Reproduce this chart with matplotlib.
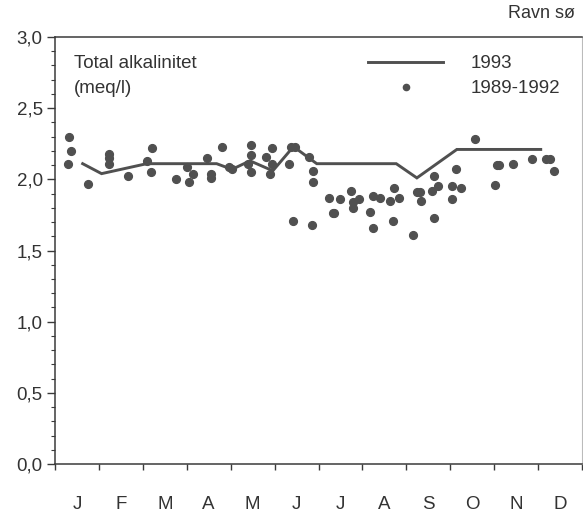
import matplotlib
matplotlib.use("Agg")
import matplotlib.pyplot as plt
from matplotlib.ticker import FuncFormatter, MultipleLocator, FixedLocator

plt.rcParams['font.family'] = ['Liberation Sans', 'DejaVu Sans']

# x positions are in months (0 = 1 Jan, 12 = 31 Dec)
month_labels = ['J', 'F', 'M', 'A', 'M', 'J', 'J', 'A', 'S', 'O', 'N', 'D']

line_1993_x = [0.63, 1.06, 2.09, 3.68, 4.03, 4.44, 4.96, 5.43, 5.96, 7.77, 8.24, 9.15, 11.06]
line_1993_y = [2.11, 2.04, 2.11, 2.11, 2.07, 2.13, 2.06, 2.23, 2.11, 2.11, 2.01, 2.21, 2.21]

pts_x = [0.32, 0.36, 0.29, 0.76, 1.23, 1.23, 1.23, 1.67, 2.22, 2.10, 2.18,
         2.76, 3.06, 3.00, 3.14, 3.46, 3.56, 3.56, 3.81, 3.96, 4.03,
         4.46, 4.46, 4.40, 4.47, 4.80, 4.95, 4.94, 4.90, 5.33, 5.38, 5.47,
         5.79, 5.88, 5.88, 5.41, 5.85,
         6.24, 6.49, 6.33, 6.36, 6.74, 6.78, 6.78, 6.93, 7.18, 7.23, 7.25, 7.40,
         7.62, 7.72, 7.84, 7.69, 8.16, 8.24, 8.31, 8.34, 8.62, 8.59, 8.73, 8.62,
         9.13, 9.05, 9.24, 9.05, 9.57, 10.06, 10.12, 10.02, 10.43, 10.87,
         11.18, 11.26, 11.37]
pts_y = [2.30, 2.20, 2.11, 1.97, 2.18, 2.15, 2.11, 2.02, 2.22, 2.13, 2.05,
         2.00, 1.98, 2.09, 2.04, 2.15, 2.04, 2.01, 2.23, 2.09, 2.07,
         2.24, 2.17, 2.11, 2.05, 2.16, 2.22, 2.11, 2.04, 2.11, 2.23, 2.23,
         2.16, 2.06, 1.98, 1.71, 1.68,
         1.87, 1.86, 1.76, 1.76, 1.92, 1.84, 1.80, 1.86, 1.77, 1.66, 1.88, 1.87,
         1.85, 1.94, 1.87, 1.71, 1.61, 1.91, 1.91, 1.85, 2.02, 1.92, 1.95, 1.73,
         2.07, 1.95, 1.94, 1.86, 2.28, 2.10, 2.10, 1.96, 2.11, 2.14,
         2.14, 2.14, 2.06]

y_ticks = [0.0, 0.5, 1.0, 1.5, 2.0, 2.5, 3.0]

ink = '#505050'
axis_col = '#3a3a3a'
txt_col = '#333333'
fs = 13.5

fig = plt.figure(figsize=(5.83, 5.16), dpi=100)
ax = fig.add_axes([55/583, 52/516, 527/583, 427/516])

ax.plot(line_1993_x, line_1993_y, color=ink, lw=2.1, solid_joinstyle='miter', label='1993', zorder=3)
ax.plot(pts_x, pts_y, linestyle='none', marker='o', ms=5.6, color=ink, mec=ink, label='1989-1992', zorder=2)

ax.set_xlim(0, 12)
ax.set_ylim(0, 3.0)

ax.xaxis.set_major_locator(FixedLocator(list(range(13))))
ax.xaxis.set_minor_locator(FixedLocator([i + 0.5 for i in range(12)]))
ax.set_xticklabels([], minor=False)
ax.set_xticklabels(month_labels, minor=True)
ax.tick_params(axis='x', which='major', direction='out', length=4, width=1, color=axis_col)
ax.tick_params(axis='x', which='minor', length=0, pad=23, labelsize=fs, labelcolor=txt_col)

ax.yaxis.set_major_locator(FixedLocator(y_ticks))
ax.yaxis.set_minor_locator(MultipleLocator(0.1))
ax.yaxis.set_major_formatter(FuncFormatter(lambda v, p: f"{v:.1f}".replace('.', ',')))
ax.tick_params(axis='y', which='major', direction='out', length=6, width=1, color=axis_col,
               labelsize=fs, labelcolor=txt_col, pad=2.8)
ax.tick_params(axis='y', which='minor', direction='out', length=3, width=0.8, color=axis_col)

for side in ['left', 'bottom', 'top']:
    ax.spines[side].set_color(axis_col)
    ax.spines[side].set_linewidth(1.1)
ax.spines['right'].set_color('#bbbbbb')
ax.spines['right'].set_linewidth(0.8)

fig.text(74/583, 1 - 68/516, 'Total alkalinitet', ha='left', va='baseline', fontsize=fs, color=txt_col)
fig.text(74/583, 1 - 93/516, '(meq/l)', ha='left', va='baseline', fontsize=fs, color=txt_col)

leg = ax.legend(loc='upper left', bbox_to_anchor=(368/583, 1 - 55/516), bbox_transform=fig.transFigure,
                frameon=False, fontsize=fs, borderpad=0, borderaxespad=0,
                handlelength=4.0, handletextpad=1.45, labelspacing=0.42, markerscale=0.8)
for t in leg.get_texts():
    t.set_color(txt_col)

fig.text(575/583, 1 - 14/516, 'Ravn sø', ha='right', va='center', fontsize=13, color=txt_col)

fig.savefig('out.png', dpi=100, facecolor='white')
